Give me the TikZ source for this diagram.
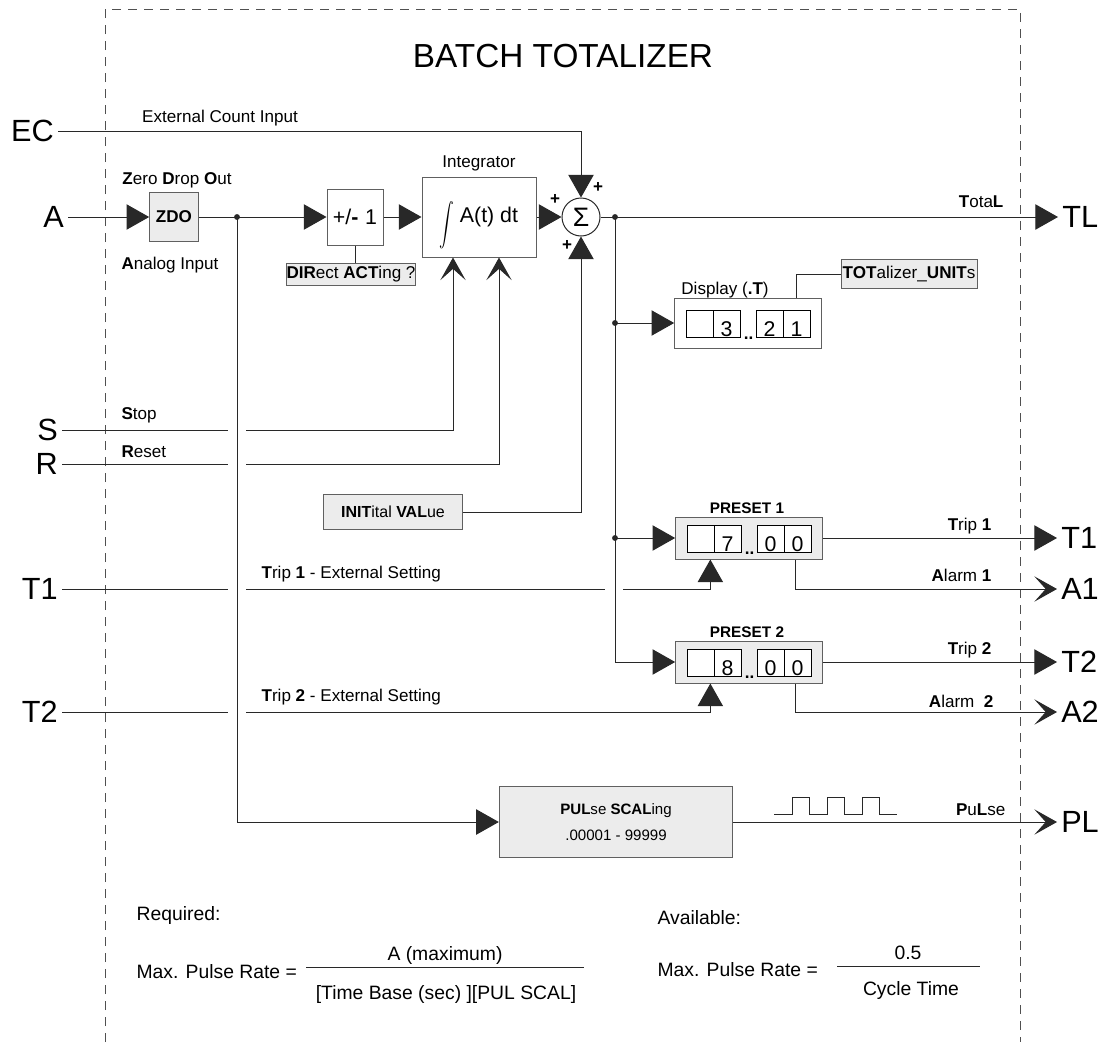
\documentclass[tikz,border=0pt]{standalone}
\usepackage{fontspec}
\usepackage{graphicx}
\setmainfont{Liberation Sans}
\usetikzlibrary{arrows.meta,calc}
\definecolor{blockfill}{RGB}{236,236,236}
\definecolor{blockedge}{RGB}{96,96,96}
\definecolor{wiregray}{RGB}{40,40,40}
\definecolor{framegray}{RGB}{80,80,80}
\newcommand\portfont{\fontsize{23}{23}\selectfont}
\newcommand\tagfont{\fontsize{12.8}{14}\selectfont}
\newcommand\digitfont{\fontsize{16}{16}\selectfont}
\newcommand\ratefont{\fontsize{14.5}{16}\selectfont}
\tikzset{wire/.style={line width=.75pt,draw=wiregray},
 feed/.style={wire,-{Triangle[length=17pt,width=19pt]}},
 barb/.style={wire,-{Stealth[length=17pt,width=19pt,inset=8.5pt]}},
 block/.style={draw=blockedge,fill=white,line width=.75pt,inner sep=0pt},
 shaded/.style={block,fill=blockfill},
 cell/.style={draw,fill=white,line width=.6pt,minimum width=20.25pt,minimum height=20pt,inner sep=0pt},
 port/.style={font=\portfont,inner sep=3pt},
 rate/.style={font=\ratefont},
 every node/.style={font=\tagfont,inner sep=1pt}}
% one counter display: box name, then the three shown digits
\newcommand\counterrow[4]{%
 \foreach \dx/\dg [count=\k] in {25.5/{},52.5/#2,95.5/#3,122.5/#4}{
  \node[cell] (#1-c\k) at ($(#1.west)+(\dx,1)$) {};
  \node[font=\digitfont,anchor=base] (#1-d\k) at ($(#1-c\k.south)+(0,-1)$) {\dg};
 }
 \node[font=\bfseries\tagfont,anchor=base] (#1-dots) at ($(#1-c2.south east)+(8,2)$) {..};
}

\begin{document}
\begin{tikzpicture}[x=0.75pt,y=-0.75pt]
\useasboundingbox (0,0) rectangle (1112,1042);
\draw[framegray,line width=.6pt,dash pattern=on 6.5pt off 5.5pt] (105,1042) |- (1020,9) -- (1020,1042);
\node[font=\fontsize{25}{25}\selectfont] (title) at (563,56) {BATCH TOTALIZER};

% ports
\node[port,anchor=east] (ec) at (58,131) {EC};
\node[port,anchor=east] (a) at (68,217) {A};
\node[port,anchor=east] (s) at (62,430) {S};
\node[port,anchor=east] (r) at (62,464) {R};
\node[port,anchor=east] (t1in) at (62,589) {T1};
\node[port,anchor=east] (t2in) at (62,712) {T2};
\node[port,anchor=west] (tl) at (1058,217) {TL};
\node[port,anchor=west] (t1out) at (1057,538) {T1};
\node[port,anchor=west] (a1out) at (1057,589) {A1};
\node[port,anchor=west] (t2out) at (1057,662) {T2};
\node[port,anchor=west] (a2out) at (1057,712) {A2};
\node[port,anchor=west] (plout) at (1057,822) {PL};

% blocks
\node[shaded,minimum width=36.5pt,minimum height=36.5pt,font=\bfseries\tagfont] (zdo) at (174,217) {ZDO};
\node[block,minimum width=42pt,minimum height=42pt,font=\digitfont] (pm) at (355,217) {+/\textbf{-}\hspace{5pt}1};
\node[block,minimum width=85.5pt,minimum height=60pt,font=\digitfont] (integ) at (479,217) {\smash{\raisebox{-9pt}{\scalebox{1.1}[1.6]{$\displaystyle\int$}}}\hspace{4pt}A(t) dt};
\node[draw=wiregray,fill=white,circle,line width=.75pt,minimum size=28.5pt,inner sep=0pt,font=\fontsize{20}{20}\selectfont] (sum) at (581,217) {Σ};
\node[shaded,minimum width=96pt,minimum height=16.5pt] (dir) at (351,274) {\textbf{DIR}ect \textbf{ACT}ing ?};
\node[shaded,minimum width=104pt,minimum height=26pt,font=\fontsize{12}{13}\selectfont] (init) at (393,512) {\textbf{INIT}ital \textbf{VAL}ue};
\node[block,minimum width=110pt,minimum height=37.5pt] (disp) at (748,323) {};
\node[shaded,minimum width=102pt,minimum height=22pt] (units) at (909,274) {\textbf{TOT}alizer\_\textbf{UNIT}s};
\node[shaded,minimum width=110pt,minimum height=31.5pt] (pre1) at (749,538) {};
\node[shaded,minimum width=110pt,minimum height=31.5pt] (pre2) at (749,662) {};
\node[shaded,minimum width=175pt,minimum height=53pt,align=center,font=\fontsize{11.3}{19}\selectfont] (pulse) at (616,822) {\textbf{PUL}se \textbf{SCAL}ing\\.00001 - 99999};
\counterrow{disp}{3}{2}{1}
\counterrow{pre1}{7}{0}{0}
\counterrow{pre2}{8}{0}{0}

% labels
\node (ectag) at (220,118) {External Count Input};
\node (zdotag) at (177,180) {\textbf{Z}ero \textbf{D}rop \textbf{O}ut};
\node (atag) at (170,265) {\textbf{A}nalog Input};
\node (integtag) at (479,163) {Integrator};
\node[font=\bfseries\tagfont] (plusl) at (555,199) {+};
\node[font=\bfseries\tagfont] (plust) at (598,187) {+};
\node[font=\bfseries\tagfont] (plusb) at (567,245) {+};
\node[anchor=west] (stag) at (120,415) {\textbf{S}top};
\node[anchor=west] (rtag) at (120,452) {\textbf{R}eset};
\node[anchor=west] (t1intag) at (260,574) {\textbf{T}rip \textbf{1} - External Setting};
\node[anchor=west] (t2intag) at (260,697) {\textbf{T}rip \textbf{2} - External Setting};
\node (disptag) at (725,290) {Display (\textbf{.T})};
\node[font=\bfseries\fontsize{11.5}{13}\selectfont] (pre1tag) at (747,508) {PRESET 1};
\node[font=\bfseries\fontsize{11.5}{13}\selectfont] (pre2tag) at (747,632) {PRESET 2};
\node[anchor=east] (tltag) at (1005,202) {\textbf{T}ota\textbf{L}};
\node[anchor=east] (t1tag) at (993,526) {\textbf{T}rip \textbf{1}};
\node[anchor=east] (a1tag) at (993,575) {\textbf{A}larm \textbf{1}};
\node[anchor=east] (t2tag) at (993,650) {\textbf{T}rip \textbf{2}};
\node[anchor=east] (a2tag) at (995,701) {\textbf{A}larm\ \ \textbf{2}};
\node[anchor=east] (pltag) at (1007,810) {\textbf{P}u\textbf{L}se};

% main path
\coordinate (split) at (237,217);
\coordinate (tap) at (615,217);
\draw[feed] (a) -- (zdo);
\draw[wire] (zdo) -- (split);
\draw[feed] (split) -- (pm);
\draw[feed] (pm) -- (integ);
\draw[feed] (integ) -- (sum);
\draw[wire] (sum) -- (tap);
\draw[feed] (tap) -- (tl);
\fill[wiregray] (split) circle (2.2pt);
\fill[wiregray] (tap) circle (2.2pt);
\draw[feed] (ec) -| (sum);
\draw[feed] (init) -| (sum);
\draw[wire] (pm) -- (pm |- dir.north);

% stop and reset
\draw[wire] (s) -- ($(split |- s)+(-9,0)$);
\draw[barb] ($(split |- s)+(9,0)$) -| ([xshift=-19.5pt]integ.south);
\draw[wire] (r) -- ($(split |- r)+(-9,0)$);
\draw[barb] ($(split |- r)+(9,0)$) -| ([xshift=15pt]integ.south);

% totals
\coordinate (tap-d) at (tap |- disp);
\coordinate (tap-p1) at (tap |- pre1);
\draw[feed] (tap-d) -- (disp);
\draw[feed] (tap-p1) -- (pre1);
\draw[feed] (tap) |- (pre2);
\fill[wiregray] (tap-d) circle (2.2pt);
\fill[wiregray] (tap-p1) circle (2.2pt);
\draw[wire] ([xshift=36pt]disp.north) |- (units);

% presets
\draw[feed] (pre1) -- (t1out);
\draw[barb] ([xshift=35pt]pre1.south) |- (a1out);
\draw[feed] (pre2) -- (t2out);
\draw[barb] ([xshift=35pt]pre2.south) |- (a2out);
\draw[wire] (t1in) -- ($(split |- t1in)+(-9,0)$);
\draw[wire] ($(split |- t1in)+(9,0)$) -- ($(tap |- t1in)+(-10,0)$);
\draw[feed] ($(tap |- t1in)+(8,0)$) -| ([xshift=-29pt]pre1.south);
\draw[wire] (t2in) -- ($(split |- t2in)+(-9,0)$);
\draw[feed] ($(split |- t2in)+(9,0)$) -| ([xshift=-29pt]pre2.south);

% pulse output
\draw[feed] (split) |- (pulse);
\draw[barb] (pulse) -- (plout);
\draw[wire] (774,814) -| (792,797) -| (809,814) -| (827,797) -| (844,814) -| (862,797) -| (879,814) -- (897,814);

% rates
\node[rate,anchor=west] (req) at (135,915) {Required:};
\node[rate,anchor=west] (lhs1) at (135,972) {Max. Pulse Rate =};
\node[rate] (num1) at (445,955) {A (maximum)};
\node[rate] (den1) at (446,994) {[Time Base (sec) ][PUL SCAL]};
\draw[wire] (306,967) -- (584,967);
\node[rate,anchor=west] (avail) at (656,918) {Available:};
\node[rate,anchor=west] (lhs2) at (656,970) {Max. Pulse Rate =};
\node[rate] (num2) at (908,953) {0.5};
\node[rate] (den2) at (911,990) {Cycle Time};
\draw[wire] (837,966) -- (980,966);
\end{tikzpicture}
\end{document}
